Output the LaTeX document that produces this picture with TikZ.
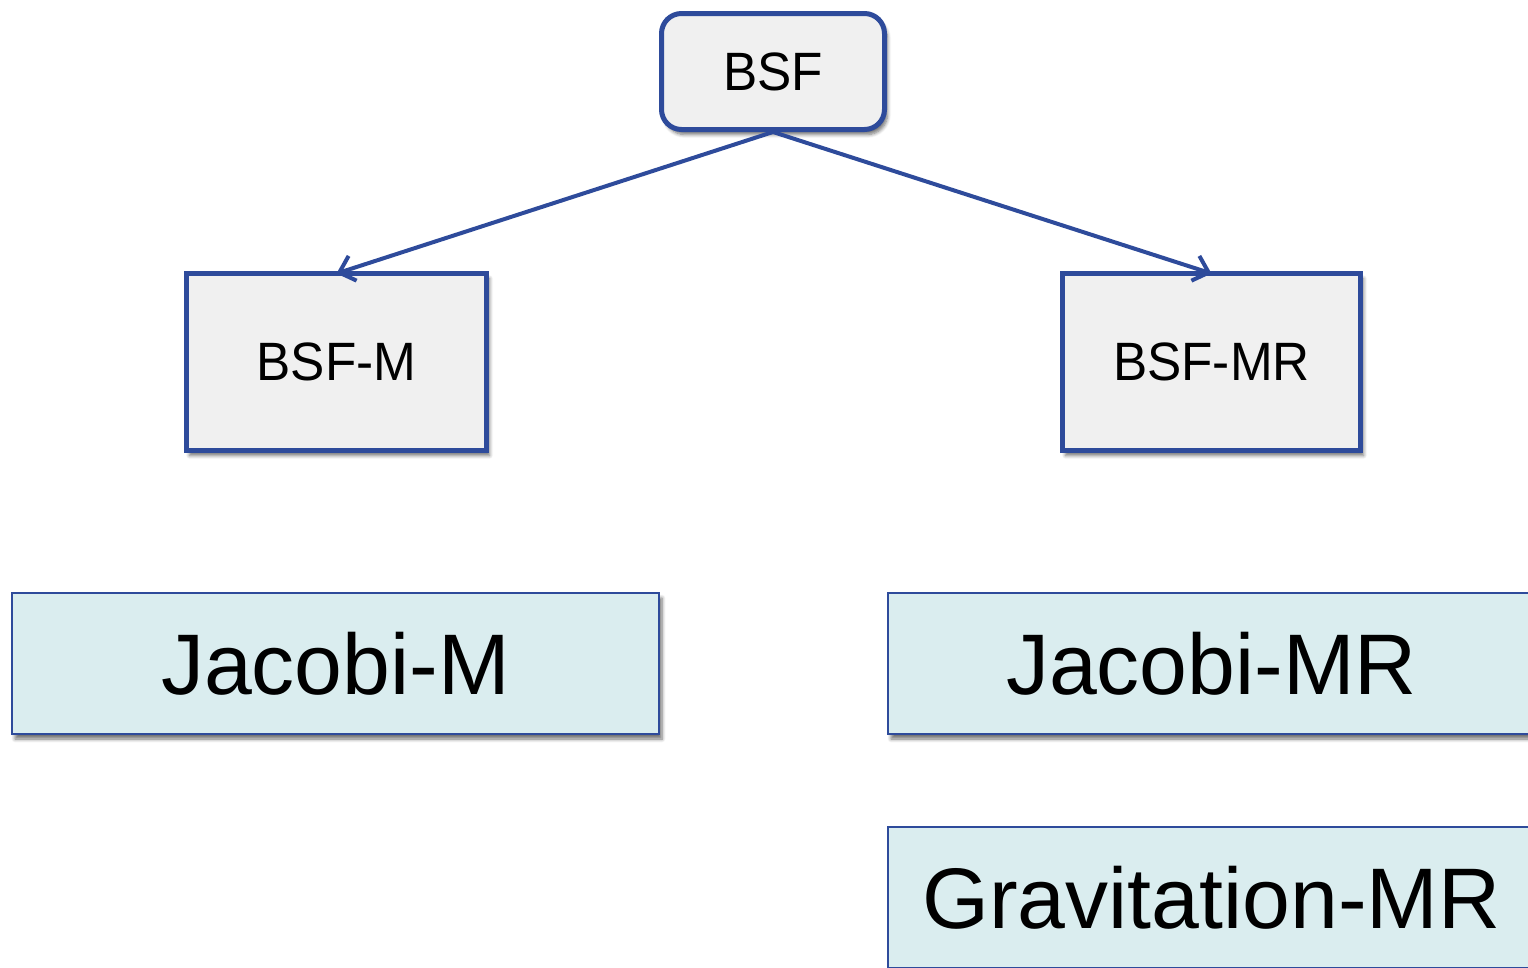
\documentclass[tikz,border=0pt]{standalone}
\usepackage{fontspec}
\setmainfont{Liberation Sans}
\usetikzlibrary{arrows.meta,shadows.blur}
\definecolor{edgeblue}{RGB}{46,75,155}
\definecolor{greyfill}{RGB}{240,240,240}
\definecolor{cyanfill}{RGB}{218,237,239}
\tikzset{
  softshadow/.style={blur shadow={shadow xshift=3pt,shadow yshift=-5pt,shadow blur steps=6,shadow opacity=55,shadow blur radius=3.5pt}},
  topbox/.style={draw=edgeblue,line width=5pt,fill=greyfill,rounded corners=20pt,
    minimum width=223pt,minimum height=116pt,inner sep=0pt,softshadow,
    font=\fontsize{54}{60}\selectfont},
  midbox/.style={draw=edgeblue,line width=5pt,fill=greyfill,
    minimum height=177pt,inner sep=0pt,softshadow,
    font=\fontsize{54}{60}\selectfont},
  lowbox/.style={draw=edgeblue,line width=2.5pt,fill=cyanfill,
    minimum width=647pt,minimum height=141pt,inner sep=0pt,softshadow,
    font=\fontsize{86}{96}\selectfont},
  link/.style={draw=edgeblue,line width=4pt,-{Straight Barb[length=14pt,width=26pt,line width=4pt]}}
}
\newcommand{\narrow}[1]{\scalebox{0.95}[1]{#1}}
\begin{document}
\begin{tikzpicture}[x=1pt,y=1pt]
  \useasboundingbox (0,0) rectangle (1528,-967);
  \clip (0,0) rectangle (1528,-967);

  % root of the tree
  \node[topbox] (bsf) at (773,-71.5) {\narrow{BSF}};

  % second level
  \node[midbox,minimum width=300pt] (bsfm) at (336.5,-362) {\narrow{BSF-M}};
  \node[midbox,minimum width=298pt] (bsfmr) at (1211.5,-362) {\narrow{BSF-MR}};

  % methods
  \node[lowbox] (jacm) at (335.5,-663.5) {Jacobi-M};
  \node[lowbox] (jacmr) at (1211.5,-663.5) {Jacobi-MR};
  \node[lowbox] (gravmr) at (1211.5,-897.5) {Gravitation-MR};

  % connectors
  \draw[link] (bsf.south) -- ([yshift=-2.5pt]bsfm.north);
  \draw[link] (bsf.south) -- ([yshift=-2.5pt]bsfmr.north);
\end{tikzpicture}
\end{document}
